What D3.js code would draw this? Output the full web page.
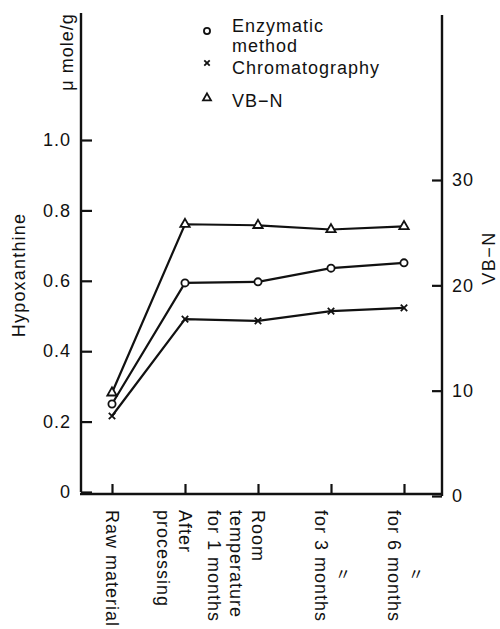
<!DOCTYPE html>
<html>
<head>
<meta charset="utf-8">
<script src="https://cdn.jsdelivr.net/npm/d3@7"></script>
<style>
  body { margin: 0; background: #fff; }
  text { font-family: "Liberation Sans", Arial, sans-serif; fill: #111; }
</style>
</head>
<body>
<script>
// stages on the x axis, one array of text lines per stage
let categories = ['Raw material', 'After processing', 'Room temperature for 1 months', 'for 3 months', 'for 6 months']
let categoryLines = [
  ['Raw material'],
  ['After', 'processing'],
  ['Room', 'temperature', 'for 1 months'],
  ['\u3003', 'for 3 months'],
  ['\u3003', 'for 6 months']
]

// hypoxanthine (umole/g) and VB-N values
let enzymatic = [0.25, 0.594, 0.597, 0.636, 0.651]
let chromatography = [0.216, 0.491, 0.486, 0.514, 0.523]
let vbn = [9.8, 25.8, 25.7, 25.3, 25.6]

let leftTicks = [0, 0.2, 0.4, 0.6, 0.8, 1.0]
let rightTicks = [0, 10, 20, 30]

let legendItems = [
  { symbol: 'circle', lines: ['Enzymatic', 'method'] },
  { symbol: 'cross', lines: ['Chromatography'] },
  { symbol: 'triangle', lines: ['VB\u2212N'] }
]

let width = 500, height = 629

let svg = d3.select('body').append('svg')
  .attr('width', width)
  .attr('height', height)

let leftX = 81, rightX = 442

let x = d3.scalePoint().domain(categories).range([112, 404])
let yL = d3.scaleLinear().domain([0, 1.0]).range([492, 140])
let yR = d3.scaleLinear().domain([0, 30]).range([496, 180])

// frame lines
svg.append('line')
  .attr('x1', leftX).attr('x2', leftX)
  .attr('y1', yL(0)).attr('y2', 13)
  .attr('stroke', '#111').attr('stroke-width', 2.4)
svg.append('line')
  .attr('x1', rightX).attr('x2', rightX)
  .attr('y1', yR(0)).attr('y2', 15)
  .attr('stroke', '#111').attr('stroke-width', 2.4)
svg.append('line')
  .attr('x1', leftX - 1).attr('x2', rightX + 1)
  .attr('y1', 494).attr('y2', 494)
  .attr('stroke', '#111').attr('stroke-width', 2.4)

// left axis, ticks pointing inward
let axisL = svg.append('g')
  .attr('transform', `translate(${leftX},0)`)
  .call(d3.axisLeft(yL).tickValues(leftTicks).tickSize(-11).tickPadding(10)
    .tickFormat(d => d === 0 ? '0' : d.toFixed(1)))
axisL.select('.domain').remove()

// right axis
let axisR = svg.append('g')
  .attr('transform', `translate(${rightX},0)`)
  .call(d3.axisRight(yR).tickValues(rightTicks).tickSize(-10).tickPadding(10))
axisR.select('.domain').remove()

// bottom ticks
let axisB = svg.append('g')
  .attr('transform', 'translate(0,494)')
  .call(d3.axisBottom(x).tickSize(-10).tickFormat(''))
axisB.select('.domain').remove()

svg.selectAll('.tick line').attr('stroke', '#111').attr('stroke-width', 2.2)
svg.selectAll('.tick text')
  .style('font-size', '18px')
  .style('letter-spacing', '1px')
  .style('font-family', '"Liberation Sans", Arial, sans-serif')
  .attr('fill', '#111')

// category labels, rotated to read downwards; each next line sits 22px to the left
categoryLines.forEach((lines, i) => {
  let tx = x(categories[i])
  let start = lines[0] === '\u3003' ? 12 : 0
  lines.forEach((line, j) => {
    let cx = tx + start - 22 * j
    if (line === '\u3003') {
      svg.append('text')
        .attr('x', cx)
        .attr('y', 573)
        .attr('text-anchor', 'middle')
        .attr('dominant-baseline', 'central')
        .style('font-size', '16px')
        .style('font-family', '"Noto Sans CJK JP", sans-serif')
        .text(line)
      return
    }
    svg.append('text')
      .attr('transform', `translate(${cx - 6},510) rotate(90)`)
      .style('font-size', '18px')
      .style('letter-spacing', '1px')
      .text(line)
  })
})

// axis titles
svg.append('text')
  .attr('transform', 'translate(25,275) rotate(-90)')
  .attr('text-anchor', 'middle')
  .style('font-size', '18px')
  .style('letter-spacing', '1.2px')
  .text('Hypoxanthine')

svg.append('text')
  .attr('transform', 'translate(73,52) rotate(-90)')
  .attr('text-anchor', 'middle')
  .style('font-size', '18px')
  .style('letter-spacing', '1px')
  .text('\u03bc mole/g')

svg.append('text')
  .attr('transform', 'translate(495,258) rotate(-90)')
  .attr('text-anchor', 'middle')
  .style('font-size', '18px')
  .style('letter-spacing', '1.5px')
  .text('VB\u2212N')

// series
let seriesList = [
  { values: enzymatic, scale: yL, symbol: 'circle' },
  { values: chromatography, scale: yL, symbol: 'cross' },
  { values: vbn, scale: yR, symbol: 'triangle' }
]

function drawMarker(g, symbol, cx, cy, s) {
  if (symbol === 'circle') {
    g.append('circle')
      .attr('cx', cx).attr('cy', cy).attr('r', 3.6 * s)
      .attr('fill', '#fff').attr('stroke', '#111').attr('stroke-width', 1.8)
  } else if (symbol === 'triangle') {
    g.append('path')
      .attr('d', d3.symbol(d3.symbolTriangle, 38 * s * s)())
      .attr('transform', `translate(${cx},${cy})`)
      .attr('fill', '#fff').attr('stroke', '#111').attr('stroke-width', 1.8)
  } else {
    let r = 3.2 * s
    g.append('path')
      .attr('d', `M${cx - r},${cy - r}L${cx + r},${cy + r}M${cx - r},${cy + r}L${cx + r},${cy - r}`)
      .attr('stroke', '#111').attr('stroke-width', 1.8)
  }
}

seriesList.forEach(series => {
  let line = d3.line()
    .x((d, i) => x(categories[i]))
    .y(d => series.scale(d))
  svg.append('path')
    .datum(series.values)
    .attr('d', line)
    .attr('fill', 'none')
    .attr('stroke', '#111')
    .attr('stroke-width', 2.2)
  let g = svg.append('g')
  series.values.forEach((v, i) => drawMarker(g, series.symbol, x(categories[i]), series.scale(v), 1))
})

// legend
let legendY = [31, 63, 98]
let legendBaselines = [[32, 52], [74], [107]]
legendItems.forEach((item, i) => {
  drawMarker(svg, item.symbol, 207, legendY[i], 0.85)
  item.lines.forEach((t, j) => {
    svg.append('text')
      .attr('x', 232)
      .attr('y', legendBaselines[i][j])
      .style('font-size', '18px')
      .style('letter-spacing', '1px')
      .text(t)
  })
})
</script>
</body>
</html>
